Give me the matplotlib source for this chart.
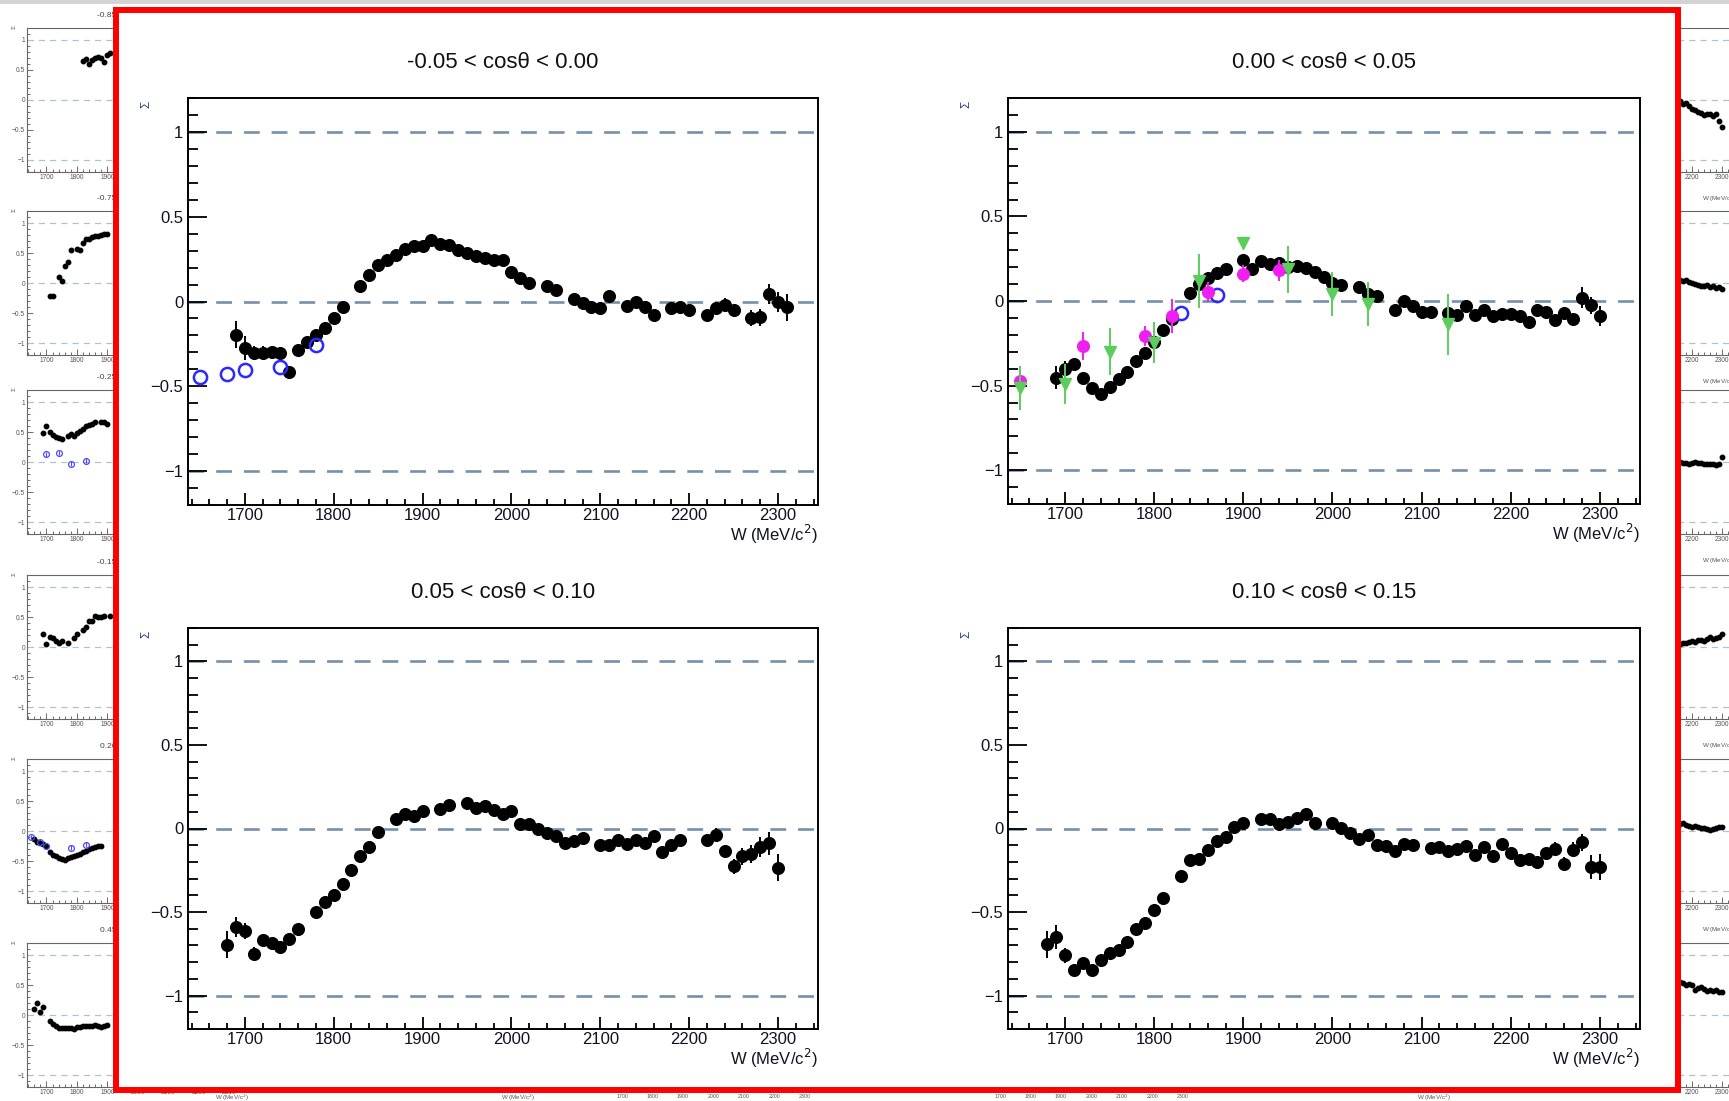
import matplotlib.pyplot as plt
import matplotlib.patches as mpatches
from matplotlib.transforms import Bbox, TransformedBbox
from matplotlib.ticker import MultipleLocator, FixedLocator, FixedFormatter, FuncFormatter

plt.rcParams['font.family'] = ['Liberation Sans', 'DejaVu Sans']

W_IMG, H_IMG = 1729, 1101

# ---------------- main panels ----------------
titles = ['-0.05 < cos\u03b8 < 0.00', '0.00 < cos\u03b8 < 0.05',
          '0.05 < cos\u03b8 < 0.10', '0.10 < cos\u03b8 < 0.15']

# -0.05 < cos < 0.00
p1_w = [1690, 1700, 1710, 1720, 1730, 1740, 1750, 1760, 1770, 1780, 1790, 1800, 1810,
        1830, 1840, 1850, 1860, 1870, 1880, 1890, 1900, 1910, 1920, 1930, 1940, 1950,
        1960, 1970, 1980, 1990, 2000, 2010, 2020, 2040, 2050, 2070, 2080, 2090, 2100,
        2110, 2130, 2140, 2150, 2160, 2180, 2190, 2200, 2220, 2230, 2240, 2250, 2270,
        2280, 2290, 2300, 2310]
p1_s = [-0.197, -0.276, -0.305, -0.305, -0.300, -0.305, -0.413, -0.285, -0.236, -0.200,
        -0.157, -0.098, -0.035, 0.089, 0.157, 0.217, 0.246, 0.276, 0.309, 0.325, 0.329,
        0.364, 0.340, 0.335, 0.305, 0.285, 0.270, 0.256, 0.246, 0.242, 0.173, 0.138,
        0.112, 0.092, 0.069, 0.014, -0.010, -0.035, -0.041, 0.033, -0.026, 0.000,
        -0.030, -0.080, -0.040, -0.035, -0.053, -0.080, -0.040, -0.020, -0.053, -0.098,
        -0.094, 0.045, -0.004, -0.035]
p1_e = [0.08, 0.07, 0.04, 0.04, 0.03, 0.03, 0.03, 0.03, 0.03, 0.03, 0.025, 0.025, 0.025,
        0.025, 0.025, 0.02, 0.02, 0.02, 0.02, 0.02, 0.02, 0.02, 0.02, 0.02, 0.02, 0.02,
        0.02, 0.02, 0.02, 0.025, 0.025, 0.025, 0.025, 0.025, 0.025, 0.025, 0.025, 0.025,
        0.03, 0.025, 0.03, 0.03, 0.03, 0.03, 0.03, 0.03, 0.03, 0.035, 0.035, 0.04, 0.035,
        0.045, 0.05, 0.06, 0.06, 0.08]
p1_blue_w = [1650, 1680, 1700, 1740, 1780]
p1_blue_s = [-0.447, -0.429, -0.404, -0.388, -0.256]

# 0.00 < cos < 0.05
p2_w = [1690, 1700, 1710, 1720, 1730, 1740, 1750, 1760, 1770, 1780, 1790, 1800, 1810,
        1820, 1840, 1850, 1860, 1870, 1880, 1900, 1910, 1920, 1930, 1940, 1950, 1960,
        1970, 1980, 1990, 2000, 2010, 2030, 2040, 2050, 2070, 2080, 2090, 2100, 2110,
        2130, 2140, 2150, 2160, 2170, 2180, 2190, 2200, 2210, 2220, 2230, 2240, 2250,
        2260, 2270, 2280, 2290, 2300]
p2_s = [-0.453, -0.404, -0.374, -0.453, -0.512, -0.551, -0.508, -0.463, -0.417, -0.354,
        -0.305, -0.242, -0.171, -0.104, 0.045, 0.098, 0.138, 0.167, 0.191, 0.242, 0.191,
        0.236, 0.217, 0.222, 0.200, 0.207, 0.197, 0.173, 0.144, 0.108, 0.093, 0.083,
        0.039, 0.030, -0.053, 0.000, -0.030, -0.065, -0.065, -0.069, -0.085, -0.030,
        -0.085, -0.053, -0.089, -0.079, -0.075, -0.089, -0.124, -0.053, -0.065, -0.114,
        -0.073, -0.108, 0.020, -0.024, -0.089]
p2_e = [0.07, 0.05, 0.04, 0.03, 0.03, 0.03, 0.03, 0.03, 0.03, 0.025, 0.025, 0.025, 0.025,
        0.025, 0.025, 0.02, 0.02, 0.02, 0.02, 0.02, 0.02, 0.02, 0.02, 0.02, 0.02, 0.02,
        0.02, 0.02, 0.02, 0.025, 0.025, 0.025, 0.025, 0.025, 0.025, 0.025, 0.025, 0.025,
        0.025, 0.03, 0.03, 0.03, 0.03, 0.03, 0.03, 0.03, 0.03, 0.03, 0.035, 0.035, 0.035,
        0.04, 0.04, 0.04, 0.06, 0.05, 0.06]
p2_mag_w = [1650, 1720, 1790, 1820, 1860, 1900, 1940]
p2_mag_s = [-0.472, -0.266, -0.207, -0.089, 0.055, 0.161, 0.181]
p2_mag_e = [0.05, 0.08, 0.06, 0.10, 0.06, 0.05, 0.06]
p2_grn_w = [1650, 1700, 1750, 1800, 1850, 1900, 1950, 2000, 2040, 2130]
p2_grn_s = [-0.512, -0.490, -0.300, -0.246, 0.118, 0.341, 0.187, 0.039, -0.020, -0.138]
p2_grn_e = [0.13, 0.12, 0.14, 0.12, 0.16, 0.0, 0.14, 0.13, 0.13, 0.18]
p2_blue_w = [1830, 1870]
p2_blue_s = [-0.073, 0.033]

# 0.05 < cos < 0.10
p3_w = [1680, 1690, 1700, 1710, 1720, 1730, 1740, 1750, 1760, 1780, 1790, 1800, 1810,
        1820, 1830, 1840, 1850, 1870, 1880, 1890, 1900, 1920, 1930, 1950, 1960, 1970,
        1980, 1990, 2000, 2010, 2020, 2030, 2040, 2050, 2060, 2070, 2080, 2100, 2110,
        2120, 2130, 2140, 2150, 2160, 2170, 2180, 2190, 2220, 2230, 2240, 2250, 2260,
        2270, 2280, 2290, 2300]
p3_s = [-0.696, -0.590, -0.614, -0.750, -0.670, -0.686, -0.710, -0.660, -0.600, -0.497,
        -0.440, -0.397, -0.331, -0.247, -0.167, -0.108, -0.022, 0.058, 0.084, 0.072,
        0.104, 0.118, 0.142, 0.154, 0.124, 0.134, 0.112, 0.088, 0.104, 0.028, 0.028,
        -0.002, -0.026, -0.046, -0.088, -0.076, -0.056, -0.096, -0.098, -0.066, -0.092,
        -0.068, -0.088, -0.042, -0.142, -0.096, -0.068, -0.068, -0.036, -0.136, -0.227,
        -0.167, -0.152, -0.108, -0.088, -0.235]
p3_e = [0.08, 0.06, 0.05, 0.04, 0.035, 0.03, 0.03, 0.03, 0.03, 0.025, 0.025, 0.025, 0.025,
        0.025, 0.025, 0.025, 0.025, 0.02, 0.02, 0.02, 0.02, 0.02, 0.02, 0.02, 0.02, 0.02,
        0.02, 0.02, 0.02, 0.025, 0.025, 0.025, 0.025, 0.025, 0.025, 0.025, 0.025, 0.025,
        0.025, 0.025, 0.03, 0.03, 0.03, 0.03, 0.035, 0.035, 0.035, 0.035, 0.04, 0.04,
        0.045, 0.05, 0.055, 0.06, 0.07, 0.08]

# 0.10 < cos < 0.15
p4_w = [1680, 1690, 1700, 1710, 1720, 1730, 1740, 1750, 1760, 1770, 1780, 1790, 1800,
        1810, 1830, 1840, 1850, 1860, 1870, 1880, 1890, 1900, 1920, 1930, 1940, 1950,
        1960, 1970, 1980, 2000, 2010, 2020, 2030, 2040, 2050, 2060, 2070, 2080, 2090,
        2110, 2120, 2130, 2140, 2150, 2160, 2170, 2180, 2190, 2200, 2210, 2220, 2230,
        2240, 2250, 2260, 2270, 2280, 2290, 2300]
p4_s = [-0.694, -0.650, -0.760, -0.845, -0.805, -0.845, -0.790, -0.745, -0.730, -0.680,
        -0.604, -0.564, -0.490, -0.417, -0.287, -0.191, -0.181, -0.128, -0.072, -0.052,
        0.008, 0.034, 0.054, 0.054, 0.028, 0.038, 0.064, 0.088, 0.034, 0.034, 0.004,
        -0.026, -0.062, -0.036, -0.096, -0.102, -0.132, -0.092, -0.098, -0.116, -0.108,
        -0.132, -0.122, -0.102, -0.156, -0.112, -0.166, -0.092, -0.146, -0.187, -0.181,
        -0.201, -0.148, -0.122, -0.211, -0.128, -0.082, -0.231, -0.231]
p4_e = [0.08, 0.07, 0.045, 0.035, 0.03, 0.03, 0.03, 0.03, 0.03, 0.025, 0.025, 0.025,
        0.025, 0.025, 0.025, 0.025, 0.025, 0.02, 0.02, 0.02, 0.02, 0.02, 0.02, 0.02, 0.02,
        0.02, 0.02, 0.02, 0.02, 0.02, 0.025, 0.025, 0.025, 0.025, 0.025, 0.025, 0.025,
        0.025, 0.025, 0.025, 0.025, 0.025, 0.03, 0.03, 0.03, 0.03, 0.03, 0.03, 0.035,
        0.035, 0.035, 0.035, 0.04, 0.04, 0.04, 0.045, 0.05, 0.07, 0.08]

# ---------------- neighbouring small canvases ----------------
left_titles = ['-0.85 < cos\u03b8 < -0.80', '-0.75 < cos\u03b8 < -0.70',
               '-0.25 < cos\u03b8 < -0.20', '-0.15 < cos\u03b8 < -0.10',
               '0.20 < cos\u03b8 < 0.25', '0.45 < cos\u03b8 < 0.50']
left_w = [
    [1820, 1830, 1840, 1850, 1860, 1870, 1880, 1890, 1900, 1910],
    [1710, 1720, 1740, 1750, 1760, 1770, 1780, 1800, 1810, 1820, 1830, 1840, 1850, 1860,
     1870, 1880, 1890, 1900],
    [1690, 1700, 1710, 1720, 1730, 1740, 1750, 1770, 1780, 1790, 1800, 1810, 1820, 1830,
     1840, 1850, 1860, 1880, 1890, 1900],
    [1690, 1700, 1710, 1720, 1730, 1740, 1750, 1770, 1790, 1800, 1820, 1830, 1840, 1850,
     1860, 1870, 1880, 1890, 1910],
    [1660, 1670, 1680, 1690, 1700, 1710, 1720, 1730, 1740, 1750, 1760, 1770, 1780, 1790,
     1800, 1810, 1820, 1830, 1840, 1850, 1860, 1870, 1880],
    [1660, 1670, 1680, 1690, 1710, 1720, 1730, 1740, 1750, 1760, 1770, 1780, 1790, 1800,
     1810, 1820, 1830, 1840, 1850, 1860, 1870, 1880, 1890, 1900],
]
left_s = [
    [0.65, 0.68, 0.60, 0.66, 0.70, 0.72, 0.70, 0.64, 0.75, 0.78],
    [-0.22, -0.22, 0.10, 0.04, 0.28, 0.35, 0.55, 0.56, 0.55, 0.67, 0.73, 0.73, 0.76, 0.78,
     0.79, 0.80, 0.81, 0.82],
    [0.48, 0.60, 0.50, 0.45, 0.42, 0.40, 0.39, 0.43, 0.46, 0.43, 0.48, 0.52, 0.55, 0.60,
     0.62, 0.63, 0.67, 0.67, 0.66, 0.64],
    [0.22, 0.05, 0.17, 0.15, 0.10, 0.07, 0.10, 0.06, 0.15, 0.22, 0.28, 0.33, 0.43, 0.43,
     0.52, 0.50, 0.50, 0.52, 0.52],
    [-0.13, -0.18, -0.20, -0.22, -0.25, -0.35, -0.40, -0.42, -0.45, -0.47, -0.48, -0.45,
     -0.44, -0.42, -0.40, -0.38, -0.35, -0.33, -0.30, -0.28, -0.26, -0.25, -0.25],
    [0.10, 0.20, 0.05, 0.13, -0.10, -0.15, -0.18, -0.22, -0.22, -0.22, -0.22, -0.22,
     -0.23, -0.20, -0.20, -0.18, -0.18, -0.18, -0.18, -0.17, -0.18, -0.20, -0.18, -0.17],
]
left_blue_w = [[], [], [1700, 1740, 1780, 1830], [], [1650, 1680, 1700, 1780, 1830], []]
left_blue_s = [[], [], [0.13, 0.15, -0.03, 0.02], [], [-0.10, -0.18, -0.25, -0.28, -0.23], []]

right_w = [2160, 2170, 2180, 2190, 2200, 2210, 2220, 2230, 2240, 2250, 2260, 2270, 2280,
           2290, 2300]
right_s = [
    [-0.02, -0.06, -0.05, -0.10, -0.15, -0.17, -0.20, -0.22, -0.25, -0.24, -0.24, -0.26,
     -0.24, -0.35, -0.45],
    [0.05, 0.03, 0.05, 0.02, 0.00, -0.02, -0.03, -0.05, -0.05, -0.04, -0.06, -0.05, -0.08,
     -0.07, -0.10],
    [0.00, -0.02, -0.01, -0.03, -0.02, 0.00, -0.02, -0.01, -0.03, -0.04, -0.04, -0.03,
     -0.05, -0.04, 0.08],
    [0.05, 0.07, 0.06, 0.09, 0.10, 0.08, 0.11, 0.12, 0.10, 0.14, 0.16, 0.14, 0.15, 0.16,
     0.22],
    [0.12, 0.14, 0.10, 0.08, 0.07, 0.08, 0.06, 0.05, 0.05, 0.04, 0.02, 0.04, 0.05, 0.06,
     0.07],
    [0.55, 0.54, 0.50, 0.52, 0.50, 0.42, 0.45, 0.46, 0.44, 0.40, 0.42, 0.40, 0.41, 0.38,
     0.38],
]
small_tops = [28, 211, 390, 575, 759, 943]

W_RANGE = (1636, 2345)
S_RANGE = (-1.2, 1.2)
DASH_COLOR = '#7590ab'
Y_TICKS = [-1, -0.5, 0, 0.5, 1]
Y_LABELS = ['\u22121', '\u22120.5', '0', '0.5', '1']


def px_box(left, top, right, bottom):
    return [left / W_IMG, 1 - bottom / H_IMG, (right - left) / W_IMG, (bottom - top) / H_IMG]


def ftext(x, y, s, **kw):
    return fig.text(x / W_IMG, 1 - y / H_IMG, s, **kw)


fig = plt.figure(figsize=(W_IMG / 100, H_IMG / 100), dpi=100)
fig.patch.set_facecolor('white')

# everything of the side canvases that lies left of the red frame
left_clip = TransformedBbox(Bbox([[0, 0], [114 / W_IMG, 1]]), fig.transFigure)


def small_panel(left, top, title, w, s, bw=(), bs=(), right_side=False):
    ax = fig.add_axes(px_box(left, top, left + 216, top + 144), zorder=0)
    ax.set_xlim(*W_RANGE)
    ax.set_ylim(*S_RANGE)
    for y in (1, 0, -1):
        ax.axhline(y, color='#b4c0cc', lw=0.9, ls=(0, (5, 4)))
    ax.errorbar(w, s, yerr=[0.03] * len(w), fmt='o', color='black', ms=3.2,
                elinewidth=0.8, capsize=0)
    if len(bw):
        ax.errorbar(bw, bs, yerr=[0.04] * len(bw), fmt='o', mfc='none', mec='#4a4aff',
                    ecolor='#4a4aff', ms=4.2, mew=0.9, elinewidth=0.8, capsize=0)
    for sp in ax.spines.values():
        sp.set_color('#666666')
        sp.set_linewidth(0.8)
    ax.xaxis.set_major_locator(MultipleLocator(100))
    ax.xaxis.set_minor_locator(MultipleLocator(20))
    ax.yaxis.set_major_locator(FixedLocator(Y_TICKS))
    ax.yaxis.set_minor_locator(MultipleLocator(0.1))
    if right_side:
        # only the right end of these canvases shows, so label just that part
        ax.xaxis.set_major_formatter(FuncFormatter(lambda v, p: f'{v:.0f}' if v >= 2200 else ''))
        ax.yaxis.set_major_formatter(FixedFormatter([''] * len(Y_TICKS)))
    else:
        ax.yaxis.set_major_formatter(FixedFormatter(Y_LABELS))
        ax.text(-0.06, 1.0, '\u03a3', transform=ax.transAxes, rotation=90, fontsize=4.5,
                color='#555555', ha='center')
    ax.tick_params(which='both', direction='in', colors='#555555', labelsize=4.8,
                   width=0.6, pad=1.5)
    ax.tick_params(which='major', length=4)
    ax.tick_params(which='minor', length=2)
    if title:
        t = ax.text(0.5, 1.09, title, transform=ax.transAxes, ha='center', va='center',
                    fontsize=6, color='#444444')
        t.set_clip_box(left_clip)
        t.set_clip_on(True)
    ax.text(1.0, -0.2, 'W (MeV/c$^2$)', transform=ax.transAxes, ha='right',
            fontsize=4.5, color='#555555')
    return ax


# partially hidden columns of canvases to either side
for i, top in enumerate(small_tops):
    small_panel(27, top, left_titles[i], left_w[i], left_s[i],
                left_blue_w[i], left_blue_s[i])
    small_panel(1520, top, '', right_w, right_s[i], right_side=True)

# stray axis labels of the row below
for x, s in [(232, 'W (MeV/c$^2$)'), (518, 'W (MeV/c$^2$)'), (1434, 'W (MeV/c$^2$)')]:
    ftext(x, 1098, s, fontsize=4.5, color='#555555', ha='center', va='center')
for x0 in (622, 1000):
    for k, lab in enumerate(['1700', '1800', '1900', '2000', '2100', '2200', '2300']):
        ftext(x0 + k * 30.5, 1096, lab, fontsize=3.8, color='#555555', ha='center', va='center')

# window title bar strip
fig.add_artist(mpatches.Rectangle((0, 1 - 4 / H_IMG), 1, 4 / H_IMG, transform=fig.transFigure,
                                  facecolor='#d4d4d4', edgecolor='none', zorder=0.5))

# red highlight frame with white interior, above the side canvases
rx0, rx1, ry0, ry1 = 115.5, 1677.5, 10, 1090
fig.add_artist(mpatches.Rectangle((rx0 / W_IMG, 1 - ry1 / H_IMG), (rx1 - rx0) / W_IMG,
                                  (ry1 - ry0) / H_IMG, transform=fig.transFigure,
                                  facecolor='white', edgecolor='#ff0000', lw=4.3, zorder=1))


def main_panel(rect, title):
    left, top, right, bottom = rect
    ax = fig.add_axes(px_box(*rect), zorder=2)
    ax.set_facecolor('none')
    ax.set_xlim(*W_RANGE)
    ax.set_ylim(*S_RANGE)
    for y in (1, 0, -1):
        ax.axhline(y, color=DASH_COLOR, lw=1.9, ls=(0, (6.0, 4.5)), zorder=1)
    for sp in ax.spines.values():
        sp.set_linewidth(1.4)
        sp.set_color('black')
    ax.xaxis.set_major_locator(MultipleLocator(100))
    ax.xaxis.set_minor_locator(MultipleLocator(20))
    ax.yaxis.set_major_locator(FixedLocator(Y_TICKS))
    ax.yaxis.set_major_formatter(FixedFormatter(Y_LABELS))
    ax.yaxis.set_minor_locator(MultipleLocator(0.1))
    ax.tick_params(which='both', direction='in', width=1.3, colors='black',
                   labelcolor='#111122', labelsize=12)
    ax.tick_params(axis='x', which='major', length=8.5, pad=2.5)
    ax.tick_params(axis='x', which='minor', length=4.5)
    ax.tick_params(axis='y', which='major', length=14, pad=3.5)
    ax.tick_params(axis='y', which='minor', length=7.5)
    cx = (left + right) / 2
    ftext(cx, top - 35, title, fontsize=16, ha='center', va='center', color='#111111')
    ftext(left - 42, top + 6, '\u03a3', fontsize=8.5, rotation=90, ha='center',
          va='center', color='#23407a')
    ftext(right, bottom + 29, 'W (MeV/c$^2$)', fontsize=12, ha='right', va='center',
          color='#111122')
    return ax


def black_points(ax, w, s, e):
    ax.errorbar(w, s, yerr=e, fmt='o', color='black', ms=8.4, elinewidth=1.4,
                capsize=0, zorder=3)


def blue_points(ax, w, s):
    ax.plot(w, s, 'o', mfc='none', mec='#2a2aff', mew=1.8, ms=9.5, zorder=4)


ax1 = main_panel((188, 98, 818, 505), titles[0])
black_points(ax1, p1_w, p1_s, p1_e)
blue_points(ax1, p1_blue_w, p1_blue_s)

ax2 = main_panel((1008, 98, 1640, 504), titles[1])
black_points(ax2, p2_w, p2_s, p2_e)
ax2.errorbar(p2_mag_w, p2_mag_s, yerr=p2_mag_e, fmt='o', color='#f01ef0', ms=8.4,
             elinewidth=1.4, capsize=0, zorder=4)
ax2.errorbar(p2_grn_w, p2_grn_s, yerr=p2_grn_e, fmt='v', color='#5ccd5c', ms=9,
             elinewidth=1.4, capsize=0, zorder=5)
blue_points(ax2, p2_blue_w, p2_blue_s)

ax3 = main_panel((188, 628, 818, 1029), titles[2])
black_points(ax3, p3_w, p3_s, p3_e)

ax4 = main_panel((1008, 628, 1640, 1029), titles[3])
black_points(ax4, p4_w, p4_s, p4_e)

fig.savefig('out.png', dpi=100)
